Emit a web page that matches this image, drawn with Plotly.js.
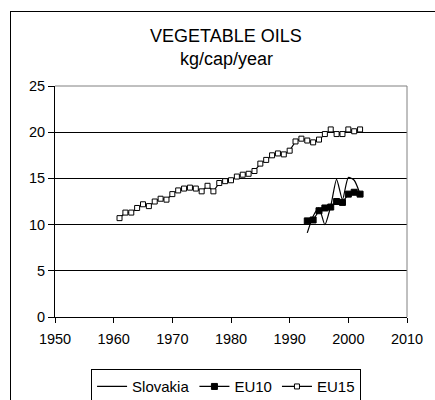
<!DOCTYPE html>
<html>
<head>
<meta charset="utf-8">
<script src="https://cdn.plot.ly/plotly-3.0.1.min.js"></script>
<style>
html,body{margin:0;padding:0;background:#fff;}
#wrap{position:relative;width:435px;height:400px;overflow:hidden;}
#chart{position:absolute;left:0;top:0;width:435px;height:400px;}
#frame{position:absolute;left:10px;top:11px;width:500px;height:500px;border-left:1px solid #000;border-top:1px solid #000;pointer-events:none;}
</style>
</head>
<body>
<div id="wrap"><div id="chart"></div><div id="frame"></div></div>
<script>
var yearsEU15 = [1961,1962,1963,1964,1965,1966,1967,1968,1969,1970,1971,1972,1973,1974,1975,1976,1977,1978,1979,1980,1981,1982,1983,1984,1985,1986,1987,1988,1989,1990,1991,1992,1993,1994,1995,1996,1997,1998,1999,2000,2001,2002];
var valuesEU15 = [10.7,11.3,11.3,11.8,12.2,12.0,12.5,12.8,12.7,13.3,13.7,13.9,14.0,13.9,13.6,14.2,13.6,14.5,14.7,14.8,15.2,15.4,15.5,15.8,16.6,17.0,17.5,17.7,17.6,18.0,19.0,19.3,19.1,18.9,19.2,19.8,20.3,19.8,19.8,20.3,20.1,20.3];
var yearsEU10 = [1993,1994,1995,1996,1997,1998,1999,2000,2001,2002];
var valuesEU10 = [10.4,10.5,11.5,11.8,11.9,12.5,12.4,13.3,13.5,13.3];
var yearsSK = [1993,1994,1995,1996,1997,1998,1999,2000,2001,2002];
var valuesSK = [9.1,10.9,11.8,10.0,12.0,14.9,12.7,15.1,14.8,13.3];
var xTicks = [1950,1960,1970,1980,1990,2000,2010];
var yTicks = [0,5,10,15,20,25];

var FONT = 'Liberation Sans, Arial, sans-serif';

var traces = [
  {x: yearsSK, y: valuesSK, name: 'Slovakia', type: 'scatter', mode: 'lines',
   line: {color: '#000', width: 1.2, shape: 'spline', smoothing: 0.6}},
  {x: yearsEU10, y: valuesEU10, name: 'EU10', type: 'scatter', mode: 'lines+markers',
   line: {color: '#000', width: 1.2},
   marker: {symbol: 'square', size: 6, color: '#000', line: {color: '#000', width: 1}}},
  {x: yearsEU15, y: valuesEU15, name: 'EU15', type: 'scatter', mode: 'lines+markers',
   line: {color: '#000', width: 1.2},
   marker: {symbol: 'square', size: 5, color: '#fff', line: {color: '#000', width: 1}}}
];

var layout = {
  width: 435, height: 400,
  margin: {l: 55, r: 28, t: 86, b: 83, pad: 0},
  paper_bgcolor: '#fff', plot_bgcolor: '#fff',
  font: {family: FONT, size: 14.5, color: '#000'},
  showlegend: true,
  legend: {orientation: 'h', xref: 'paper', x: 0.486, xanchor: 'center',
           yref: 'container', y: 0.077, yanchor: 'top',
           bordercolor: '#000', borderwidth: 1, font: {family: FONT, size: 15, color: '#000'},
           traceorder: 'normal', itemwidth: 30},
  xaxis: {range: [1950, 2010], tickvals: xTicks, ticktext: xTicks.map(String), automargin: false,
          showgrid: false, zeroline: false, showline: true, linecolor: '#000', linewidth: 1,
          ticks: 'outside', ticklen: 5, tickcolor: '#000', tickwidth: 1, ticklabelstandoff: 4,
          tickfont: {family: FONT, size: 14.5, color: '#000'}, fixedrange: true},
  yaxis: {range: [0, 25], tickvals: yTicks, ticktext: yTicks.map(String), automargin: false,
          showgrid: true, gridcolor: '#000', gridwidth: 1, zeroline: false,
          showline: true, linecolor: '#000', linewidth: 1,
          ticks: 'outside', ticklen: 6, tickcolor: '#000', tickwidth: 1,
          tickfont: {family: FONT, size: 14.5, color: '#000'}, fixedrange: true},
  shapes: [
    {type: 'line', xref: 'paper', yref: 'paper', x0: 0, x1: 1, y0: 1, y1: 1, line: {color: '#808080', width: 1}, layer: 'above'},
    {type: 'line', xref: 'paper', yref: 'paper', x0: 1, x1: 1, y0: 0, y1: 1, line: {color: '#808080', width: 1}, layer: 'above'}
  ],
  annotations: [
    {text: 'VEGETABLE OILS', xref: 'paper', yref: 'paper', x: 0.4866, y: 1.215, xanchor: 'center', yanchor: 'middle',
     showarrow: false, font: {family: FONT, size: 18, color: '#000'}},
    {text: 'kg/cap/year', xref: 'paper', yref: 'paper', x: 0.4866, y: 1.118, xanchor: 'center', yanchor: 'middle',
     showarrow: false, font: {family: FONT, size: 18, color: '#000'}}
  ]
};

Plotly.newPlot('chart', traces, layout, {staticPlot: true, displayModeBar: false});
</script>
</body>
</html>
